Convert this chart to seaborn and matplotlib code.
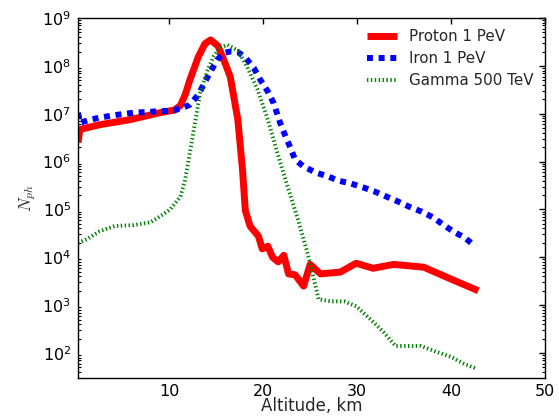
import numpy as np
import pandas as pd
import matplotlib
matplotlib.use("Agg")
import matplotlib.pyplot as plt
import seaborn as sns

# ---- data (altitude in km, number of photons) ----
proton_alt = [0.29, 0.5, 2.6, 5.8, 9.0, 10.6, 11.2, 11.7, 12.2, 13.1, 13.8, 14.4, 15.2, 15.9,
              16.5, 17.3, 17.8, 18.1, 18.6, 19.5, 19.9, 20.5, 21.0, 21.6, 22.2, 22.7, 23.4,
              24.3, 25.0, 26.1, 28.2, 29.9, 31.7, 33.9, 37.1, 40.0, 42.9]
proton_n = [2.5e6, 4.7e6, 5.9e6, 7.5e6, 1.05e7, 1.2e7, 1.5e7, 2.5e7, 5.1e7, 1.55e8, 2.9e8, 3.5e8,
            2.6e8, 1.2e8, 5.9e7, 7.6e6, 6.8e5, 9.5e4, 4.5e4, 2.75e4, 1.5e4, 1.7e4, 1.0e4, 8.0e3,
            1.1e4, 4.5e3, 4.3e3, 2.5e3, 7.1e3, 4.5e3, 4.9e3, 7.5e3, 5.9e3, 7.1e3, 6.2e3, 3.5e3, 2.0e3]

iron_alt = [0.29, 0.5, 1.57, 2.6, 4.45, 6.2, 8.0, 9.8, 11.2, 12.2, 13.1, 14.2, 15.1, 15.8, 16.5,
            17.3, 18.1, 19.0, 19.7, 20.5, 21.1, 21.8, 22.4, 22.9, 23.4, 24.3, 25.6, 26.9, 28.0,
            29.3, 30.6, 31.8, 33.1, 34.3, 35.5, 36.8, 38.1, 39.1, 40.2, 41.4, 42.6]
iron_n = [1.05e7, 6.5e6, 7.5e6, 8.3e6, 9.5e6, 1.05e7, 1.1e7, 1.15e7, 1.26e7, 1.55e7, 2.5e7, 6.5e7,
          1.33e8, 1.86e8, 2.0e8, 1.95e8, 1.5e8, 9.1e7, 5.1e7, 2.9e7, 1.7e7, 6.5e6, 3.3e6, 1.95e6,
          1.1e6, 7.9e5, 5.9e5, 4.9e5, 4.0e5, 3.5e5, 2.9e5, 2.4e5, 1.86e5, 1.48e5, 1.15e5, 9.1e4,
          6.8e4, 4.9e4, 3.5e4, 2.6e4, 1.7e4]

gamma_alt = [0.29, 1.25, 2.6, 4.2, 6.2, 8.0, 9.0, 10.1, 11.2, 11.7, 12.2, 12.8, 13.3, 14.1, 14.7,
             15.4, 16.2, 17.3, 18.3, 19.4, 20.5, 21.5, 22.6, 23.7, 24.7, 25.4, 25.9, 27.2, 28.6,
             29.9, 31.4, 32.8, 34.1, 36.8, 38.2, 40.0, 41.4, 42.7]
gamma_n = [2.0e4, 2.4e4, 3.5e4, 4.5e4, 4.7e4, 5.4e4, 7.1e4, 1.0e5, 1.86e5, 4.2e5, 1.55e6, 7.5e6,
           2.75e7, 8.3e7, 1.55e8, 2.4e8, 2.75e8, 2.1e8, 9.5e7, 3.2e7, 7.5e6, 1.55e6, 3.0e5, 6.2e4,
           1.26e4, 3.5e3, 1.33e3, 1.2e3, 1.2e3, 9.5e2, 5.1e2, 2.75e2, 1.4e2, 1.4e2, 1.1e2, 83, 59, 47]

labels = ["Proton 1 PeV", "Iron 1 PeV", "Gamma 500 TeV"]
xtick_values = [10, 20, 30, 40, 50]
ytick_values = [1e2, 1e3, 1e4, 1e5, 1e6, 1e7, 1e8, 1e9]

sns.set_theme(style="white")
plt.rcParams['font.family'] = ['DejaVu Sans']
plt.rcParams['mathtext.fontset'] = 'cm'

fig = plt.figure(figsize=(5.59, 4.2), dpi=100)
ax = fig.add_axes([0.1395, 0.1, 0.9750 - 0.1395, 0.957 - 0.1])

sns.lineplot(x=proton_alt, y=proton_n, ax=ax, color="red", lw=5.0, label=labels[0])
ax.lines[-1].set_solid_capstyle("butt")
sns.lineplot(x=iron_alt, y=iron_n, ax=ax, color="blue", lw=4.3, label=labels[1])
ax.lines[-1].set_dashes((1.0, 0.95))
sns.lineplot(x=gamma_alt, y=gamma_n, ax=ax, color="green", lw=2.8, label=labels[2])
ax.lines[-1].set_dashes((0.36, 0.64))

ax.set_yscale("log")
ax.set_xlim(0.29, 50)
ax.set_ylim(30, 1e9)
ax.set_xticks(xtick_values)
ax.set_yticks(ytick_values)

ax.set_xlabel("Altitude, km", fontsize=12, labelpad=-1)
ax.set_ylabel(r"$N_{ph}$", fontsize=12, labelpad=3)

for s in ax.spines.values():
    s.set_color("black")
    s.set_linewidth(1.0)

ax.tick_params(axis="both", which="both", direction="in", top=True, right=True,
               colors="black", labelsize=11.5)
ax.tick_params(axis="x", which="major", length=4, width=1, pad=4)
ax.tick_params(axis="y", which="major", length=4, width=1, pad=5)
ax.tick_params(axis="y", which="minor", length=2, width=0.8, left=True, right=True)
ax.tick_params(axis="x", which="minor", bottom=False, top=False)

leg = ax.legend(loc="upper right", frameon=False, fontsize=10.9, handlelength=2.0,
                labelspacing=0.45, borderaxespad=0.35, handletextpad=0.8)

fig.savefig("out.png", dpi=100)
